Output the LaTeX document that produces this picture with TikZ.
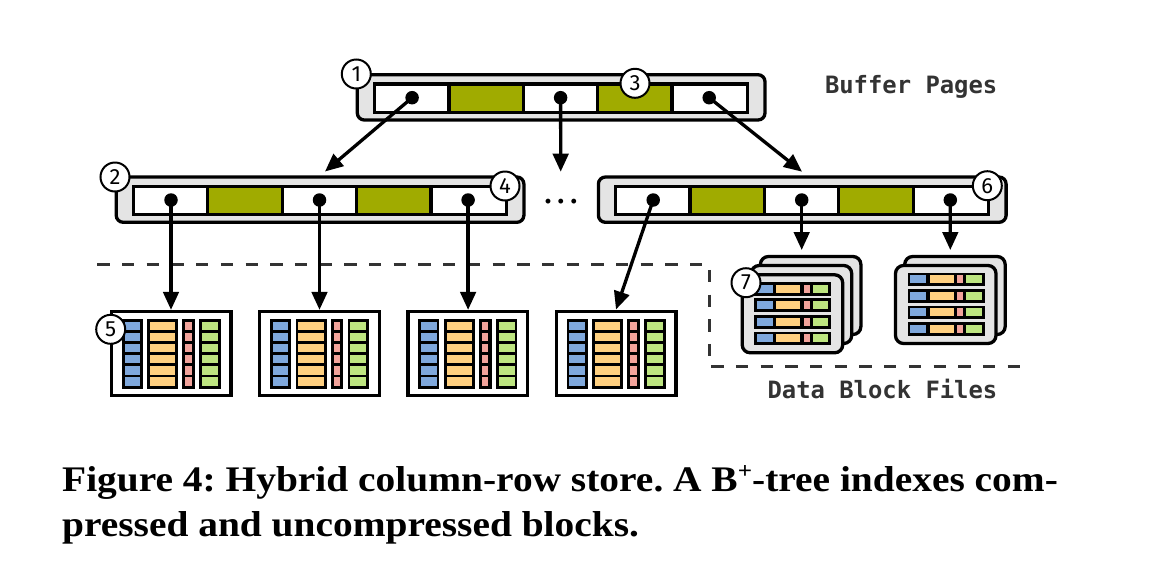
\documentclass[tikz,border=0pt]{standalone}
\usepackage{fontspec}
\setmainfont{Liberation Serif}
\newfontfamily\capfont{Liberation Serif}[BoldFeatures={FakeStretch=1.095}]
\newfontfamily\lblfont{DejaVu Sans Mono}[BoldFont={DejaVu Sans Mono Bold}]
\newfontfamily\numfont{Fira Sans}
\usetikzlibrary{arrows.meta}
\definecolor{boxgray}{HTML}{E4E4E4}
\definecolor{olive}{HTML}{A0AB00}
\definecolor{cblue}{HTML}{7FA8DC}
\definecolor{corange}{HTML}{FFD080}
\definecolor{cred}{HTML}{F2A39B}
\definecolor{cgreen}{HTML}{BDE580}
\definecolor{dark}{HTML}{333333}
\tikzset{
  outerbox/.style={draw=black,line width=3.3pt,fill=boxgray,rounded corners=7pt,outer sep=0pt},
  innerrow/.style={draw=black,line width=3.3pt,fill=white},
  oliveline/.style={draw=black,line width=3.3pt,fill=olive},
  ptr/.style={circle,fill=black,inner sep=0pt,minimum size=13.5pt},
  conn/.style={line width=3.3pt,-{Triangle[length=18pt,width=15.5pt]}},
  badge/.style={circle,draw=black,line width=2pt,fill=white,inner sep=0pt,minimum size=29pt,font=\numfont\fontsize{22}{22}\selectfont},
  blockbox/.style={draw=black,line width=3.3pt,fill=white,inner sep=0pt,minimum width=119.5pt,minimum height=84pt},
  boundary/.style={draw=dark,line width=3.3pt,dash pattern=on 12.3pt off 12.4pt},
  lbl/.style={text=dark,inner sep=0pt,font=\lblfont\bfseries\fontsize{23.85}{24}\selectfont},
  captext/.style={inner sep=0pt,anchor=base west,font=\capfont\bfseries\fontsize{36}{38}\selectfont\frenchspacing},
}
% tree page: name, left x of outer centre line, top y
\newcommand{\treepage}[3]{
  \node[outerbox,inner sep=0pt,minimum width=407.7pt,minimum height=45.3pt,anchor=north west] (#1) at (#2,#3) {};
  \begin{scope}[shift={(#2,#3)}]
    \draw[innerrow] (17,9.3) rectangle (390.3,37.5);
    \draw[oliveline] (91.6,9.3) rectangle (166,37.5);
    \draw[oliveline] (240.4,9.3) rectangle (314.8,37.5);
    \node[ptr] (#1a) at (54.8,23.0) {};
    \node[ptr] (#1b) at (203.3,23.0) {};
    \node[ptr] (#1c) at (351.9,23.0) {};
  \end{scope}
}
% columnar block: name, left x of the outer centre line
\newcommand{\colblock}[2]{
  \node[blockbox,anchor=north west,outer sep=1.65pt] (#1) at (#2-1.65,309.85) {};
  \begin{scope}[shift={(#2,311.5)}]
    \fill[black] (10.2,7.5) rectangle (31.2,77);
    \fill[black] (35.8,7.5) rectangle (66.8,77);
    \fill[black] (70.8,7.5) rectangle (83.5,77);
    \fill[black] (87.8,7.5) rectangle (109.2,77);
    \foreach \r in {0,...,5}{
      \begin{scope}[yshift=-\r*11.13pt]
        \fill[cblue]   (13,10.2) rectangle (28.5,18.5);
        \fill[corange] (38.5,10.2) rectangle (63.8,18.5);
        \fill[cred]    (73.8,10.2) rectangle (80.2,18.5);
        \fill[cgreen]  (90.5,10.2) rectangle (106.5,18.5);
      \end{scope}
    }
  \end{scope}
}
% file sheet: name, left x, top y (of the outer centre line)
\newcommand{\filesheet}[3]{
  \node[outerbox,inner sep=0pt,minimum width=100.5pt,minimum height=78pt,anchor=north west,rounded corners=8pt] (#1) at (#2,#3) {};
}
% rows on the front sheet
\newcommand{\filerows}[2]{
  \begin{scope}[shift={(#1,#2)}]
    \foreach \r in {0,...,3}{
      \begin{scope}[yshift=-\r*16.6pt]
        \fill[black] (12.2,7) rectangle (89,20.7);
        \fill[cblue]   (14.5,9.7) rectangle (30.5,17.7);
        \fill[corange] (34,9.7) rectangle (58,17.7);
        \fill[cred]    (61.3,9.7) rectangle (67.3,17.7);
        \fill[cgreen]  (70.6,9.7) rectangle (86.2,17.7);
      \end{scope}
    }
  \end{scope}
}
\newcommand{\onedot}{\makebox[12.9pt]{·}}
\begin{document}
\begin{tikzpicture}[x=1pt,y=-1pt]
\useasboundingbox (0,0) rectangle (1156,574);
% dashed boundary
\coordinate (bA) at (97.3,264.3);
\coordinate (bB) at (709.3,264.3);
\coordinate (bC) at (709.3,366.7);
\coordinate (bD) at (1022,366.7);
\draw[boundary] (bA) -- (bB) -- (bC) -- (bD);
% pages
\treepage{top}{357.3}{74.7}
\treepage{left}{116.2}{177}
\treepage{right}{598.4}{177}
% blocks
\colblock{b1}{111.5}
\colblock{b2}{259.8}
\colblock{b3}{408.1}
\colblock{b4}{556.4}
% file stacks
\filesheet{s3}{760.4}{256.5}
\filesheet{s2}{751.2}{265.5}
\filesheet{s1}{742.2}{274.8}
\filerows{742.2}{274.8}
\filesheet{t2}{904.7}{256.5}
\filesheet{t1}{895.5}{265.5}
\filerows{895.5}{265.5}
% free ends
\coordinate (tipL) at (325,171.5);
\coordinate (tipM) at (560.7,171.7);
\coordinate (tipR) at (802,171.7);
\coordinate (tipB) at (616,309.5);
\coordinate (tipS) at (801.7,250);
\coordinate (tipT) at (950.3,250);
% connectors
\draw[conn] (topa.center) -- (tipL);
\draw[conn] (topb.center) -- (tipM);
\draw[conn] (topc.center) -- (tipR);
\draw[conn] (lefta.center) -- (lefta.center |- b1.north);
\draw[conn] (leftb.center) -- (leftb.center |- b2.north);
\draw[conn] (leftc.center) -- (leftc.center |- b3.north);
\draw[conn] (righta.center) -- (tipB);
\draw[conn] (rightb.center) -- (tipS);
\draw[conn] (rightc.center) -- (tipT);
% badges
\node[badge] (n1) at (356.3,74) {1};
\node[badge] (n2) at (115,177) {2};
\node[badge] (n3) at (635,83.3) {3};
\node[badge] (n4) at (505,186) {4};
\node[badge] (n5) at (110.7,329.3) {5};
\node[badge] (n6) at (987.3,185.7) {6};
\node[badge] (n7) at (746,282.7) {7};
% labels
\node[lbl,anchor=base east] (bp) at (997.5,93) {Buffer Pages};
\node[lbl,anchor=base east] (db) at (997.5,398) {Data Block Files};
\node[inner sep=0pt,anchor=base,font=\bfseries\fontsize{30}{30}\selectfont] (dots) at (561,211) {\onedot\onedot\onedot};
% caption
\node[captext] (c1) at (62,491) {Figure 4: Hybrid column-row store. A B\raisebox{13pt}{\fontsize{23}{23}\selectfont +}-tree indexes com-};
\node[captext] (c2) at (62,536) {pressed and uncompressed blocks.};
\end{tikzpicture}
\end{document}
